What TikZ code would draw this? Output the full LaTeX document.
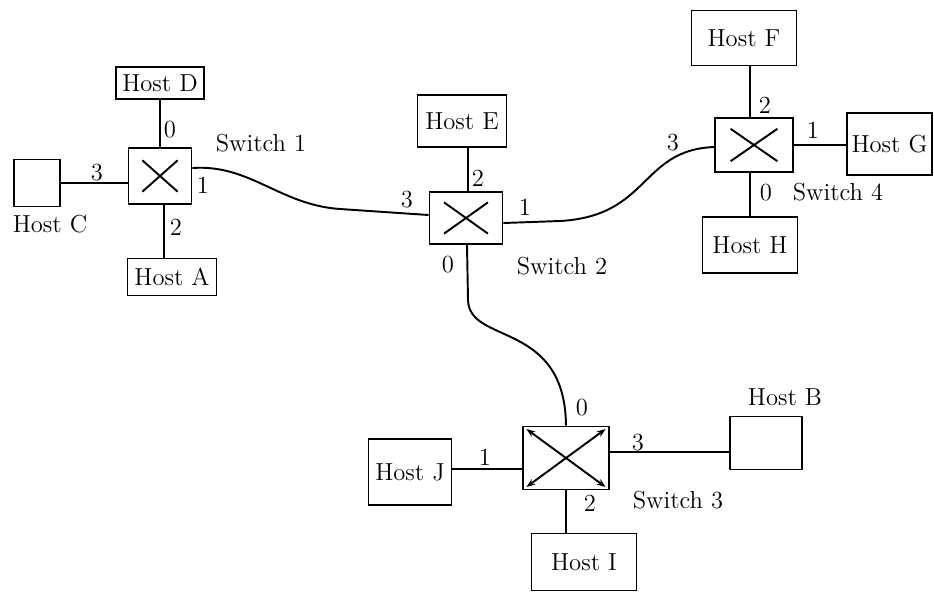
\documentclass[tikz,border=0pt]{standalone}
\usetikzlibrary{calc,arrows.meta}
\begin{document}
\begin{tikzpicture}[x=0.02cm,y=-0.02cm,
  host/.style={draw, line width=1.1pt, font=\fontsize{14}{16}\selectfont, inner sep=2pt},
  sw/.style={draw, line width=1.1pt, path picture={
    \draw[line width=1.1pt] ($(path picture bounding box.north west)!#1!(path picture bounding box.south east)$) -- ($(path picture bounding box.north west)!1-#1!(path picture bounding box.south east)$);
    \draw[line width=1.1pt] ($(path picture bounding box.south west)!#1!(path picture bounding box.north east)$) -- ($(path picture bounding box.south west)!1-#1!(path picture bounding box.north east)$);}},
  swarr/.style={draw, line width=1.1pt, path picture={
    \draw[line width=1.1pt, {Stealth[length=5pt]}-{Stealth[length=5pt]}] ($(path picture bounding box.north west)!0.04!(path picture bounding box.south east)$) -- ($(path picture bounding box.north west)!0.96!(path picture bounding box.south east)$);
    \draw[line width=1.1pt, {Stealth[length=5pt]}-{Stealth[length=5pt]}] ($(path picture bounding box.south west)!0.04!(path picture bounding box.north east)$) -- ($(path picture bounding box.south west)!0.96!(path picture bounding box.north east)$);}},
  lbl/.style={font=\fontsize{14}{16}\selectfont, inner sep=1pt},
  wire/.style={line width=1.1pt}]
\useasboundingbox (0,0) rectangle (934,593);

% ---- Switch 1 group
\node[sw=0.22, minimum width=1.26cm, minimum height=1.12cm] (s1) at (160,176) {};
\node[host, minimum width=1.76cm, minimum height=0.64cm] (hD) at (160,83) {Host D};
\node[host, minimum width=1.78cm, minimum height=0.74cm] (hA) at (172,277) {Host A};
\node[draw, line width=1.1pt, minimum width=0.92cm, minimum height=0.94cm] (hC) at (37,183) {};
\node[lbl] (lC) at (50,224) {Host C};
\draw[wire] (hD) -- (s1);
\draw[wire] ([xshift=0.08cm]s1.south) -- ([xshift=0.08cm]s1.south |- hA.north);
\draw[wire] (hC.east) -- (hC.east -| s1.west);
\node[lbl] (p10) at (170,130) {0};
\node[lbl] (p13) at (97,173) {3};
\node[lbl] (p11) at (203,185) {1};
\node[lbl] (p12) at (176,227) {2};
\node[lbl] (ls1) at (261,143) {Switch 1};

% ---- Switch 2 group
\node[sw=0.2, minimum width=1.46cm, minimum height=1.04cm] (s2) at (466,218) {};
\node[host, minimum width=1.78cm, minimum height=1.04cm] (hE) at (462,121) {Host E};
\draw[wire] ([xshift=0.04cm]s2.north) -- ([xshift=0.04cm]s2.north |- hE.south);
\node[lbl] (p23) at (407,200) {3};
\node[lbl] (p22) at (478,178) {2};
\node[lbl] (p21) at (525,207) {1};
\node[lbl] (p20) at (448,265) {0};
\node[lbl] (ls2) at (562,266) {Switch 2};

% ---- Switch 4 group
\node[sw=0.2, minimum width=1.56cm, minimum height=1.08cm] (s4) at (754,145) {};
\node[host, minimum width=2.1cm, minimum height=1.1cm] (hF) at (744,38) {Host F};
\node[host, minimum width=1.9cm, minimum height=1.12cm] (hH) at (750,245) {Host H};
\node[host, minimum width=1.7cm, minimum height=1.24cm] (hG) at (889.5,144) {Host G};
\draw[wire] ([xshift=-0.08cm]s4.north) -- ([xshift=-0.08cm]s4.north |- hF.south);
\draw[wire] ([xshift=-0.08cm]s4.south) -- ([xshift=-0.08cm]s4.south |- hH.north);
\draw[wire] (s4.east) -- (s4.east -| hG.west);
\node[lbl] (p42) at (765,105) {2};
\node[lbl] (p41) at (813,130) {1};
\node[lbl] (p43) at (673,143) {3};
\node[lbl] (p40) at (766,193) {0};
\node[lbl] (ls4) at (838,192) {Switch 4};

% ---- Switch 3 group
\node[swarr, minimum width=1.72cm, minimum height=1.26cm] (s3) at (566,458) {};
\node[host, minimum width=1.66cm, minimum height=1.32cm] (hJ) at (410,472) {Host J};
\node[host, minimum width=2.1cm, minimum height=1.14cm] (hI) at (584,562) {Host I};
\node[draw, line width=1.1pt, minimum width=1.44cm, minimum height=1.06cm] (hB) at (766,443) {};
\node[lbl] (lB) at (785,397) {Host B};
\draw[wire] (hJ.east |- 0,469) -- (s3.west |- 0,469);
\draw[wire] (s3.east |- 0,452) -- (hB.west |- 0,452);
\draw[wire] (s3.south) -- (s3.south |- hI.north);
\node[lbl] (p31) at (485,457) {1};
\node[lbl] (p30) at (582,408) {0};
\node[lbl] (p33) at (638,443) {3};
\node[lbl] (p32) at (590,503) {2};
\node[lbl] (ls3) at (678,500) {Switch 3};

% ---- inter-switch wires
\coordinate (w1) at (340,209);
\draw[wire] ([yshift=0.16cm]s1.east) .. controls (250,164) and (280,205) .. (w1)
  -- ([yshift=0.06cm]s2.west);
\coordinate (w2) at (560,221);
\draw[wire] ([yshift=-0.1cm]s2.east) -- (w2) .. controls (650,216) and (640,150) .. ([yshift=-0.04cm]s4.west);
\coordinate (w3) at (468,300);
\draw[wire] ([xshift=0.02cm]s2.south) -- (w3) .. controls (469,345) and (565,320) .. (s3.north);
\end{tikzpicture}
\end{document}
